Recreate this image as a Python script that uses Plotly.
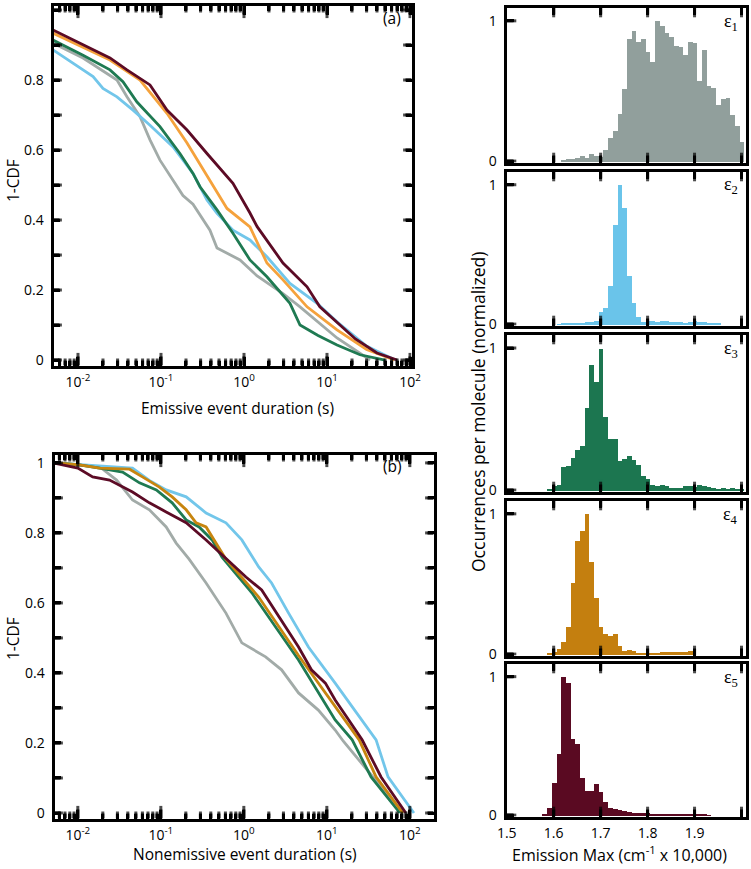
import plotly.graph_objects as go
import math

# ---------------- DATA ----------------
a_gray_t = [0.005, 0.0115, 0.0295, 0.0389, 0.0559, 0.0737, 0.0972, 0.14, 0.184, 0.243, 0.389, 0.473, 0.895, 1.44, 2.95, 4.73, 13.2, 33]
a_gray_y = [0.905, 0.863, 0.8, 0.752, 0.695, 0.629, 0.571, 0.514, 0.47, 0.445, 0.371, 0.32, 0.286, 0.24, 0.19, 0.152, 0.063, 0]
a_blue_t = [0.005, 0.0152, 0.02, 0.0295, 0.046, 0.0737, 0.14, 0.243, 0.358, 0.473, 0.736, 1.18, 1.89, 3.58, 7.6, 13.2, 30, 66]
a_blue_y = [0.886, 0.81, 0.776, 0.752, 0.714, 0.671, 0.609, 0.533, 0.457, 0.419, 0.371, 0.343, 0.295, 0.219, 0.162, 0.109, 0.04, 0]
a_green_t = [0.005, 0.0115, 0.0243, 0.0348, 0.0514, 0.0972, 0.169, 0.243, 0.295, 0.473, 0.736, 1.18, 1.89, 3.58, 4.73, 7.8, 13.2, 25, 50]
a_green_y = [0.914, 0.871, 0.829, 0.795, 0.737, 0.667, 0.59, 0.533, 0.495, 0.429, 0.362, 0.286, 0.238, 0.162, 0.1, 0.07, 0.043, 0.015, 0]
a_orange_t = [0.005, 0.0243, 0.0559, 0.118, 0.206, 0.389, 0.624, 1.18, 1.89, 2.95, 5.75, 13.2, 30, 65]
a_orange_y = [0.934, 0.857, 0.8, 0.705, 0.62, 0.514, 0.433, 0.38, 0.277, 0.229, 0.152, 0.086, 0.03, 0]
a_maroon_t = [0.005, 0.0243, 0.0389, 0.0737, 0.118, 0.206, 0.358, 0.736, 1.18, 1.44, 2.95, 5.75, 8.2, 11.8, 22, 40, 70]
a_maroon_y = [0.943, 0.863, 0.829, 0.786, 0.714, 0.657, 0.59, 0.505, 0.42, 0.381, 0.277, 0.209, 0.152, 0.118, 0.06, 0.02, 0]

b_gray_t = [0.005, 0.0183, 0.0293, 0.0456, 0.0728, 0.116, 0.153, 0.219, 0.351, 0.609, 0.946, 1.83, 2.85, 4.56, 7.9, 12.6, 15.8, 40, 82.4]
b_gray_y = [1.0, 0.989, 0.951, 0.894, 0.866, 0.817, 0.771, 0.725, 0.657, 0.571, 0.486, 0.446, 0.409, 0.343, 0.294, 0.237, 0.205, 0.09, 0]
b_blue_t = [0.005, 0.0456, 0.0728, 0.116, 0.202, 0.351, 0.609, 0.946, 1.51, 2.16, 3.46, 6.0, 12.6, 39.2, 54.6, 112]
b_blue_y = [1.0, 0.985, 0.95, 0.923, 0.903, 0.857, 0.829, 0.78, 0.703, 0.657, 0.571, 0.474, 0.371, 0.209, 0.103, 0]
b_green_t = [0.005, 0.01, 0.0183, 0.0346, 0.0553, 0.0883, 0.137, 0.202, 0.289, 0.414, 0.546, 1.25, 4.56, 12.6, 20.2, 34.1, 75.9]
b_green_y = [1.0, 0.995, 0.985, 0.974, 0.943, 0.923, 0.886, 0.837, 0.817, 0.78, 0.731, 0.629, 0.437, 0.266, 0.209, 0.103, 0]
b_orange_t = [0.005, 0.01, 0.0183, 0.042, 0.06, 0.096, 0.137, 0.202, 0.266, 0.351, 0.609, 1.51, 4.56, 12.6, 24.5, 39.2, 82.4]
b_orange_y = [1.0, 0.995, 0.985, 0.982, 0.96, 0.931, 0.903, 0.866, 0.829, 0.817, 0.725, 0.617, 0.45, 0.303, 0.209, 0.103, 0]
b_maroon_t = [0.005, 0.01, 0.0151, 0.0241, 0.0456, 0.0728, 0.116, 0.202, 0.351, 0.609, 1.06, 1.64, 2.85, 4.56, 6.52, 9.6, 12.6, 26.6, 45, 89.5]
b_maroon_y = [1.0, 0.985, 0.96, 0.951, 0.917, 0.886, 0.86, 0.829, 0.78, 0.727, 0.674, 0.637, 0.551, 0.474, 0.409, 0.371, 0.323, 0.209, 0.103, 0]

bins = [1.50, 1.51, 1.52, 1.53, 1.54, 1.55, 1.56, 1.57, 1.58, 1.59,
        1.60, 1.61, 1.62, 1.63, 1.64, 1.65, 1.66, 1.67, 1.68, 1.69,
        1.70, 1.71, 1.72, 1.73, 1.74, 1.75, 1.76, 1.77, 1.78, 1.79,
        1.80, 1.81, 1.82, 1.83, 1.84, 1.85, 1.86, 1.87, 1.88, 1.89,
        1.90, 1.91, 1.92, 1.93, 1.94, 1.95, 1.96, 1.97, 1.98, 1.99, 2.00]
h1 = [0, 0, 0, 0, 0, 0, 0, 0, 0, 0, 0, 0,
      0.012, 0.02, 0.018, 0.025, 0.039, 0.023, 0.053, 0.04, 0.03, 0.083,
      0.169, 0.215, 0.342, 0.515, 0.873, 0.93, 0.85, 0.873, 0.78, 0.711,
      1.0, 0.965, 0.919, 0.885, 0.822, 0.815, 0.757, 0.85, 0.843, 0.573,
      0.797, 0.538, 0.527, 0.404, 0.446, 0.45, 0.33, 0.254, 0.139]
h2 = [0, 0, 0, 0, 0, 0, 0, 0, 0, 0, 0,
      0.003, 0.005, 0.008, 0.01, 0.012, 0.015, 0.018, 0.022, 0.025,
      0.089, 0.121, 0.276, 0.713, 1.0, 0.834, 0.35, 0.152, 0.058, 0.019,
      0.028, 0.023, 0.019, 0.023, 0.023, 0.019, 0.016, 0.019, 0.012, 0.016,
      0.023, 0.019, 0.016, 0.014, 0.012, 0.007,
      0, 0, 0, 0, 0]
h3 = [0, 0, 0, 0, 0, 0, 0, 0, 0,
      0.007, 0.035, 0.037, 0.166, 0.175, 0.229, 0.287, 0.315, 0.579, 0.883, 0.766,
      1.0, 0.521, 0.364, 0.364, 0.206, 0.224, 0.245, 0.217, 0.182, 0.1,
      0.082, 0.04, 0.03, 0.037, 0.03, 0.019, 0.016, 0.016, 0.03, 0.035,
      0.026, 0.037, 0.03, 0.023, 0.016, 0.012, 0.016, 0.014, 0.016, 0.014, 0.012]
h4 = [0, 0, 0, 0, 0, 0, 0, 0, 0,
      0.005, 0.016, 0.04, 0.087, 0.2, 0.51, 0.807, 0.882, 1.0, 0.659, 0.4,
      0.2, 0.15, 0.135, 0.15, 0.059, 0.024, 0.035, 0.024, 0.007, 0.007,
      0.007, 0.012, 0.014, 0.016, 0.016, 0.018, 0.018, 0.02, 0.022, 0.025,
      0, 0, 0, 0, 0, 0, 0, 0, 0, 0, 0]
h5 = [0, 0, 0, 0, 0, 0, 0, 0,
      0.012, 0.058, 0.236, 0.446, 1.0, 0.96, 0.55, 0.52, 0.27, 0.18, 0.18, 0.23,
      0.17, 0.1, 0.058, 0.049, 0.04, 0.035, 0.026, 0.021, 0.016, 0.019,
      0.016, 0.012, 0.014, 0.012, 0.007, 0.007, 0.009, 0.009, 0.007, 0.005,
      0.007, 0.005, 0.007, 0.003,
      0, 0, 0, 0, 0, 0, 0]

eps_labels = ["ε<sub>1</sub>", "ε<sub>2</sub>", "ε<sub>3</sub>", "ε<sub>4</sub>", "ε<sub>5</sub>"]
log_major = [0.01, 0.1, 1, 10, 100]
log_major_text = ["10<sup>-2</sup>", "10<sup>-1</sup>", "10<sup>0</sup>", "10<sup>1</sup>", "10<sup>2</sup>"]
log_minor_mult = [2, 3, 4, 5, 6, 7, 8, 9]
log_decades = [0.001, 0.01, 0.1, 1, 10, 100]
cdf_ticks = [0, 0.2, 0.4, 0.6, 0.8, 1.0]
cdf_ticktext = ["0", "0.2", "0.4", "0.6", "0.8", "1"]
cdf_minor_ticks = [0.1, 0.3, 0.5, 0.7, 0.9]
em_ticks = [1.5, 1.6, 1.7, 1.8, 1.9, 2.0]
em_ticktext = ["1.5", "1.6", "1.7", "1.8", "1.9", "2.0"]
hist_yticks = [0, 1]

# ---------------- STYLE ----------------
W, H = 751, 869
FONT = "Open Sans"
C_GRAY, C_BLUE, C_GREEN, C_ORANGE, C_MAROON = "#a2aba8", "#72c6ea", "#1f7a52", "#f5a23c", "#5c0b25"
C_GOLD = "#c7850f"
HIST_COLORS = ["#919f9c", "#6ac4ea", "#1c7650", "#c47f0f", "#5a0a22"]
TICKFONT = dict(family=FONT, size=14, color="black")
LW = 3    # frame width
TW = 3    # tick width


def dx(px):
    return px / W


def dy(py):
    return 1 - py / H


minor_vals = [m * d for d in log_decades for m in log_minor_mult]

fig = go.Figure()
layout = dict(
    template="none",
    width=W, height=H, margin=dict(l=0, r=0, t=0, b=0, autoexpand=False),
    paper_bgcolor="white", plot_bgcolor="white", bargap=0,
    font=dict(family=FONT, color="black"),
)


def base_axis(domain, rng, anchor, typ="linear", tickvals=None, ticktext=None, showlabels=True,
              ticklen=7, mirror="ticks", minor=None, standoff=4):
    ax = dict(type=typ, domain=domain, range=rng, anchor=anchor, showline=True, linewidth=LW,
              linecolor="black", mirror=mirror, showgrid=False, zeroline=False,
              ticks="inside", ticklen=ticklen, tickwidth=TW, tickcolor="black",
              tickmode="array", tickvals=tickvals, ticktext=ticktext, showticklabels=showlabels,
              tickfont=TICKFONT, automargin=False, ticklabelstandoff=standoff)
    if minor is not None:
        ax["minor"] = dict(tickmode="array", tickvals=minor[0], ticks="inside", ticklen=minor[1],
                           tickwidth=TW, tickcolor="black")
    return ax


def add_tick_marks(xid, yid, xr, yr, xlog, w_px, h_px, xticks, yticks, y_both=True):
    """Inward tick marks on the subplot's own scales (frame decoration, same as axis ticks)."""
    tx, ty = [], []
    mx, my, msym, msize = [], [], [], []

    def x_at(p):
        return 10 ** p if xlog else p

    xspan = xr[1] - xr[0]
    yspan = yr[1] - yr[0]
    for v, ln in xticks:
        p = math.log10(v) if xlog else v
        if not (xr[0] <= p <= xr[1]):
            continue
        d = ln / h_px * yspan
        tx += [v, v, None, v, v, None]
        ty += [yr[0], yr[0] + d, None, yr[1], yr[1] - d, None]
        mx += [v, v]
        my += [yr[0], yr[1]]
        msym += ["line-ns", "line-ns"]
        msize += [2 * ln, 2 * ln]
    for v, ln in yticks:
        if not (yr[0] <= v <= yr[1]):
            continue
        d = ln / w_px * xspan
        tx += [x_at(xr[0]), x_at(xr[0] + d), None]
        ty += [v, v, None]
        mx.append(x_at(xr[0]))
        my.append(v)
        msym.append("line-ew")
        msize.append(2 * ln)
        if y_both:
            tx += [x_at(xr[1]), x_at(xr[1] - d), None]
            ty += [v, v, None]
            mx.append(x_at(xr[1]))
            my.append(v)
            msym.append("line-ew")
            msize.append(2 * ln)
    fig.add_trace(go.Scatter(x=tx, y=ty, mode="lines", line=dict(color="black", width=TW),
                             xaxis=xid, yaxis=yid, showlegend=False, hoverinfo="skip",
                             connectgaps=False))
    fig.add_trace(go.Scatter(x=mx, y=my, mode="markers", cliponaxis=True,
                             marker=dict(symbol=msym, size=msize, color="black",
                                         line=dict(color="black", width=TW)),
                             xaxis=xid, yaxis=yid, showlegend=False, hoverinfo="skip"))


# ---- CDF panels ----
curves_a = [(a_gray_t, a_gray_y, C_GRAY), (a_blue_t, a_blue_y, C_BLUE), (a_green_t, a_green_y, C_GREEN),
            (a_orange_t, a_orange_y, C_ORANGE), (a_maroon_t, a_maroon_y, C_MAROON)]
curves_b = [(b_gray_t, b_gray_y, C_GRAY), (b_blue_t, b_blue_y, C_BLUE), (b_green_t, b_green_y, C_GREEN),
            (b_orange_t, b_orange_y, C_GOLD), (b_maroon_t, b_maroon_y, C_MAROON)]
for t, y, c in curves_a:
    fig.add_trace(go.Scatter(x=t, y=y, mode="lines", line=dict(color=c, width=2.8), xaxis="x", yaxis="y",
                             showlegend=False))
for t, y, c in curves_b:
    fig.add_trace(go.Scatter(x=t, y=y, mode="lines", line=dict(color=c, width=2.8), xaxis="x2", yaxis="y2",
                             showlegend=False))

# (xid, yid, domain px left/right/top/bottom (inside frame), log x range, y range)
cdf_panels = [
    ("x", "y", 53.5, 411.5, 5.5, 365.5, [-2.295, 2.018], [-0.0157, 1.0129]),
    ("x2", "y2", 54.5, 433.5, 454.5, 818.5, [-2.281, 2.285], [-0.0157, 1.024]),
]
for xid, yid, L, R, T, B, xr, yr in cdf_panels:
    layout["xaxis" + xid[1:]] = base_axis([dx(L), dx(R)], xr, yid, "log", log_major, log_major_text,
                                          ticklen=9, minor=(minor_vals, 5), standoff=2)
    layout["yaxis" + yid[1:]] = base_axis([dy(B), dy(T)], yr, xid, "linear", cdf_ticks, cdf_ticktext,
                                          ticklen=6, minor=(cdf_minor_ticks, 6))
    xt = [(v, 9) for v in log_major] + [(v, 5) for v in minor_vals]
    yt = [(v, 6) for v in cdf_ticks + cdf_minor_ticks]
    add_tick_marks(xid, yid, xr, yr, True, R - L, B - T, xt, yt)

# ---- Histogram panels ----
hists = [h1, h2, h3, h4, h5]
hist_rows = [(6, 164), (170, 327), (333, 493), (499, 657), (662, 818)]
HL, HR = 506.5, 745.5
HX = [1.4995, 2.0085]
HY = [-0.01, 1.095]
for i, (h, c) in enumerate(zip(hists, HIST_COLORS)):
    n = i + 3
    fig.add_trace(go.Bar(x=bins, y=h, width=0.01, marker=dict(color=c, line=dict(width=0)),
                         xaxis=f"x{n}", yaxis=f"y{n}", showlegend=False))
for i, (top, bot) in enumerate(hist_rows):
    n = i + 3
    xid, yid = f"x{n}", f"y{n}"
    layout[f"xaxis{n}"] = base_axis([dx(HL), dx(HR)], HX, yid, "linear", em_ticks, em_ticktext,
                                    showlabels=(i == 4), ticklen=7, standoff=2)
    layout[f"yaxis{n}"] = base_axis([dy(bot - 1.5), dy(top + 1.5)], HY, xid, "linear", hist_yticks,
                                    ["0", "1"], ticklen=7, mirror=True)
    add_tick_marks(xid, yid, HX, HY, False, HR - HL, bot - top - 3,
                   [(v, 7) for v in em_ticks[1:]], [(v, 7) for v in hist_yticks], y_both=False)

fig.update_layout(**layout)

ann = []
TF = dict(family=FONT, size=15.5, color="black")
ann.append(dict(text="Emissive event duration (s)", x=dx(237), y=dy(408), xref="paper", yref="paper",
                showarrow=False, font=TF, xanchor="center", yanchor="middle"))
ann.append(dict(text="Nonemissive event duration (s)", x=dx(245), y=dy(854), xref="paper", yref="paper",
                showarrow=False, font=TF, xanchor="center", yanchor="middle"))
ann.append(dict(text="1-CDF", x=dx(13), y=dy(180), xref="paper", yref="paper", textangle=-90,
                showarrow=False, font=TF, xanchor="center", yanchor="middle"))
ann.append(dict(text="1-CDF", x=dx(13), y=dy(638), xref="paper", yref="paper", textangle=-90,
                showarrow=False, font=TF, xanchor="center", yanchor="middle"))
ann.append(dict(text="Emission Max (cm<sup>-1</sup> x 10,000)", x=dx(619), y=dy(854), xref="paper",
                yref="paper", showarrow=False, font=dict(family=FONT, size=16, color="black"),
                xanchor="center", yanchor="middle"))
ann.append(dict(text="Occurrences per molecule (normalized)", x=dx(478), y=dy(412), xref="paper",
                yref="paper", textangle=-90, showarrow=False, font=dict(family=FONT, size=17.5, color="black"),
                xanchor="center", yanchor="middle"))
ann.append(dict(text="(a)", x=dx(392), y=dy(18), xref="paper", yref="paper", showarrow=False, font=TF,
                xanchor="center", yanchor="middle"))
ann.append(dict(text="(b)", x=dx(392), y=dy(466), xref="paper", yref="paper", showarrow=False, font=TF,
                xanchor="center", yanchor="middle"))
for i, (top, bot) in enumerate(hist_rows):
    ann.append(dict(text=eps_labels[i], x=dx(740), y=dy(top + 16), xref="paper", yref="paper",
                    showarrow=False, font=dict(family="Liberation Serif", size=18, color="black"),
                    xanchor="right", yanchor="middle"))
fig.update_layout(annotations=ann)

fig.write_html("out.html", config={"displayModeBar": False},
               post_script="document.body.style.margin='0';document.body.style.overflow='hidden';")
